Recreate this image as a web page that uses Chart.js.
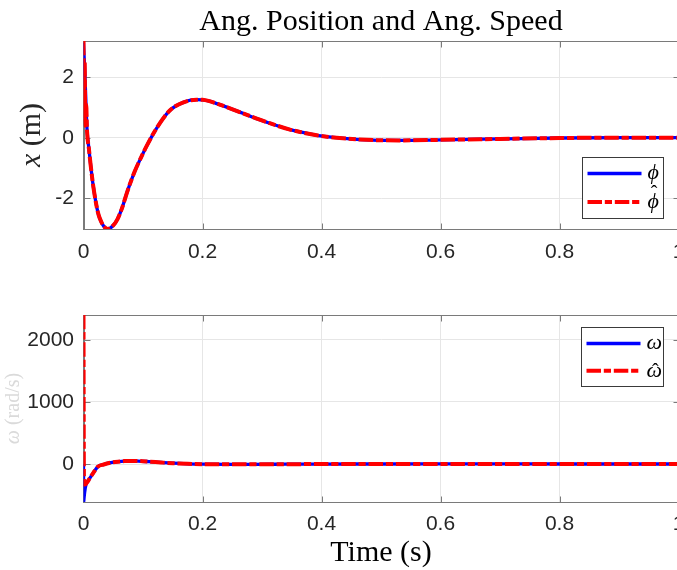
<!DOCTYPE html>
<html>
<head>
<meta charset="utf-8">
<script src="https://cdn.jsdelivr.net/npm/chart.js@4.4.0/dist/chart.umd.min.js"></script>
<style>
  html, body { margin: 0; padding: 0; background: #fff; overflow: hidden; }
  #wrap { position: relative; width: 677px; height: 570px; overflow: hidden; }
  canvas { position: absolute; left: 0; }
  #posChart { top: 0; }
  #speedChart { top: 270px; }
</style>
</head>
<body>
<div id="wrap">
  <canvas id="posChart" width="700" height="270"></canvas>
  <canvas id="speedChart" width="700" height="300"></canvas>
</div>
<script>
// angular position (rad)
const timePos = [0, 0.001, 0.002, 0.003, 0.0045, 0.006, 0.009, 0.012, 0.016, 0.02, 0.024, 0.027, 0.034, 0.041, 0.05, 0.057, 0.064, 0.075, 0.086, 0.098, 0.106, 0.117, 0.129, 0.137, 0.145, 0.155, 0.168, 0.18, 0.19, 0.2, 0.21, 0.224, 0.245, 0.269, 0.29, 0.313, 0.347, 0.364, 0.392, 0.42, 0.465, 0.53, 0.6, 0.7, 0.8, 0.9, 1.0];
const phiData = [3.14, 2.7, 2.3, 1.75, 0.95, 0.25, -0.35, -0.9, -1.55, -2.05, -2.45, -2.65, -2.93, -3.02, -2.9, -2.7, -2.37, -1.7, -1.12, -0.6, -0.28, 0.12, 0.5, 0.72, 0.9, 1.05, 1.17, 1.24, 1.26, 1.255, 1.22, 1.13, 0.98, 0.8, 0.64, 0.48, 0.27, 0.19, 0.08, 0.01, -0.06, -0.09, -0.07, -0.04, -0.01, 0, 0];
const phiHatData = [3.2, 0.6, 2.5, 0.4, 1.1, 0.2, -0.35, -0.9, -1.55, -2.05, -2.45, -2.65, -2.93, -3.02, -2.9, -2.7, -2.37, -1.7, -1.12, -0.6, -0.28, 0.12, 0.5, 0.72, 0.9, 1.05, 1.17, 1.24, 1.26, 1.255, 1.22, 1.13, 0.98, 0.8, 0.64, 0.48, 0.27, 0.19, 0.08, 0.01, -0.06, -0.09, -0.07, -0.04, -0.01, 0, 0];

// angular speed
const timeSpeed = [0, 0.0003, 0.0008, 0.002, 0.004, 0.007, 0.0104, 0.016, 0.024, 0.034, 0.046, 0.058, 0.069, 0.08, 0.092, 0.11, 0.13, 0.15, 0.175, 0.2, 0.24, 0.285, 0.34, 0.4, 0.5, 0.6, 0.7, 0.8, 0.9, 1.0];
const omegaData = [0, -610, -560, -450, -340, -280, -230, -150, -43, -8, 21, 38, 48, 50, 48, 38, 25, 13, 3, -3, -5, -5, -3, -1, 0, 1, 1, 0, 0, 0];
const omegaHatData = [2400, 900, -330, -330, -320, -285, -230, -150, -43, -8, 21, 38, 48, 50, 48, 38, 25, 13, 3, -3, -5, -5, -3, -1, 0, 1, 1, 0, 0, 0];

const timeTicks = [0, 0.2, 0.4, 0.6, 0.8, 1];
const posTicks = [-2, 0, 2];
const speedTicks = [0, 1000, 2000];
const posRange = [-3.02, 3.2];
const speedRange = [-612, 2400];

const tickFont = { family: '"Liberation Sans", Arial, sans-serif', size: 21 };
const serif = '"Liberation Serif", "DejaVu Serif", serif';
const axisGray = '#7a7a7a';

const toPoints = (xs, ys) => xs.map((x, i) => ({ x: x, y: ys[i] }));

// box round the axes plus the small inward tick marks
const axesBox = {
  id: 'axesBox',
  beforeDatasetsDraw(chart) {
    const { ctx, chartArea: a, scales } = chart;
    const L = Math.round(a.left) + 0.5, R = Math.round(a.right) + 0.5;
    const T = Math.round(a.top) + 0.5, B = Math.round(a.bottom) + 0.5;
    ctx.save();
    ctx.strokeStyle = axisGray;
    ctx.lineWidth = 1;
    ctx.strokeRect(L, T, R - L, B - T);
    ctx.beginPath();
    scales.x.ticks.forEach(t => {
      const px = Math.round(scales.x.getPixelForValue(t.value)) + 0.5;
      ctx.moveTo(px, B); ctx.lineTo(px, B - 6);
      ctx.moveTo(px, T); ctx.lineTo(px, T + 6);
    });
    scales.y.ticks.forEach(t => {
      const py = Math.round(scales.y.getPixelForValue(t.value)) + 0.5;
      ctx.moveTo(L, py); ctx.lineTo(L + 6, py);
      ctx.moveTo(R, py); ctx.lineTo(R - 6, py);
    });
    ctx.stroke();
    ctx.restore();
  }
};

// y label with mixed italic / upright parts, and the boxed legend
const extras = {
  id: 'extras',
  afterDraw(chart, args, opts) {
    const { ctx, chartArea: a } = chart;
    ctx.save();
    // y label
    const lab = opts.yLabel;
    ctx.translate(lab.x, (a.top + a.bottom) / 2);
    ctx.rotate(-Math.PI / 2);
    ctx.textBaseline = 'middle';
    ctx.fillStyle = lab.color;
    let total = 0;
    lab.parts.forEach(p => {
      ctx.font = (p.italic ? 'italic ' : '') + lab.size + 'px ' + serif;
      total += ctx.measureText(p.text).width;
    });
    let cx = -total / 2;
    lab.parts.forEach(p => {
      ctx.font = (p.italic ? 'italic ' : '') + lab.size + 'px ' + serif;
      ctx.textAlign = 'left';
      ctx.fillText(p.text, cx, 0);
      cx += ctx.measureText(p.text).width;
    });
    ctx.restore();

    // legend
    const lg = opts.legend;
    const bx = Math.round(a.right - lg.right - lg.width) + 0.5;
    const by = Math.round(a.top + lg.top) + 0.5;
    ctx.save();
    ctx.fillStyle = '#fff';
    ctx.fillRect(bx, by, lg.width, lg.height);
    ctx.strokeStyle = '#3a3a3a';
    ctx.lineWidth = 1;
    ctx.strokeRect(bx, by, lg.width, lg.height);
    lg.rows.forEach((rowY, i) => {
      const ds = chart.data.datasets[lg.order[i]];
      const y = by + rowY;
      ctx.beginPath();
      ctx.setLineDash(ds.borderDash || []);
      ctx.strokeStyle = ds.borderColor;
      ctx.lineWidth = ds.borderWidth;
      ctx.moveTo(bx + 5, y);
      ctx.lineTo(bx + 5 + lg.lineLen, y);
      ctx.stroke();
      ctx.setLineDash([]);
      const hasHat = ds.label.indexOf('\u0302') >= 0;
      const base = ds.label.replace('\u0302', '');
      ctx.font = 'italic 22px ' + serif;
      ctx.fillStyle = '#000';
      ctx.textAlign = 'left';
      ctx.textBaseline = 'middle';
      const tx = bx + 5 + lg.lineLen + 6;
      ctx.fillText(base, tx, y + lg.textDy);
      if (hasHat) {
        const w = ctx.measureText(base).width;
        ctx.font = '20px ' + serif;
        ctx.textAlign = 'center';
        ctx.fillText('\u02C6', tx + w / 2 + 1, y + lg.hatDy);
      }
    });
    ctx.restore();
  }
};

const plainLabel = v => String(v);

function xScale(height, pad, title) {
  return {
    type: 'linear',
    min: 0,
    max: 1,
    afterBuildTicks: s => { s.ticks = timeTicks.map(v => ({ value: v })); },
    afterFit: s => { s.height = height; },
    ticks: { font: tickFont, color: '#262626', maxRotation: 0, autoSkip: false, padding: pad, callback: plainLabel },
    grid: { color: '#e6e6e6', drawTicks: false },
    border: { color: axisGray },
    title: title || { display: false }
  };
}

function yScale(range, ticks) {
  return {
    type: 'linear',
    min: range[0],
    max: range[1],
    afterBuildTicks: s => { s.ticks = ticks.map(v => ({ value: v })); },
    afterFit: s => { s.width = 83.5; },
    ticks: { font: tickFont, color: '#262626', padding: 9.5, callback: plainLabel },
    grid: { color: '#e6e6e6', drawTicks: false },
    border: { color: axisGray }
  };
}

const blueLine = { borderColor: '#0000ff', borderWidth: 3.3, pointRadius: 0, cubicInterpolationMode: 'monotone', borderJoinStyle: 'round', fill: false };
const redLine = { borderColor: '#ff0000', borderWidth: 4, borderDash: [14.5, 2.8, 7.2, 2.8], pointRadius: 0, cubicInterpolationMode: 'monotone', borderJoinStyle: 'round', fill: false };

new Chart(document.getElementById('posChart'), {
  type: 'line',
  data: {
    datasets: [
      Object.assign({ label: '\u03D5', data: toPoints(timePos, phiData), order: 1 }, blueLine),
      Object.assign({ label: '\u03D5\u0302', data: toPoints(timePos, phiHatData), order: 0 }, redLine)
    ]
  },
  options: {
    responsive: false,
    animation: false,
    devicePixelRatio: 1,
    layout: { padding: { left: 0, right: 21.5, top: 0, bottom: 0 } },
    plugins: {
      legend: { display: false },
      tooltip: { enabled: false },
      title: {
        display: true,
        fullSize: false,
        text: 'Ang. Position and Ang. Speed',
        color: '#000',
        font: { family: serif, size: 30, weight: 'normal', lineHeight: 1.2 },
        padding: { top: 4, bottom: 1 }
      },
      extras: {
        yLabel: { x: 32, size: 30, color: '#262626', parts: [{ text: 'x', italic: true }, { text: ' (m)' }] },
        legend: { right: 15.5, top: 116, width: 81, height: 61, rows: [16, 44.5], order: [0, 1], lineLen: 54, textDy: 0, hatDy: -7 }
      }
    },
    scales: {
      x: xScale(41, 11),
      y: yScale(posRange, posTicks)
    }
  },
  plugins: [axesBox, extras]
});

new Chart(document.getElementById('speedChart'), {
  type: 'line',
  data: {
    datasets: [
      Object.assign({ label: '\u03C9', data: toPoints(timeSpeed, omegaData), order: 1 }, blueLine),
      Object.assign({ label: '\u03C9\u0302', data: toPoints(timeSpeed, omegaHatData), order: 0 }, redLine)
    ]
  },
  options: {
    responsive: false,
    animation: false,
    devicePixelRatio: 1,
    layout: { padding: { left: 0, right: 21.5, top: 45, bottom: 0 } },
    plugins: {
      legend: { display: false },
      tooltip: { enabled: false },
      extras: {
        yLabel: { x: 14, size: 20, color: '#dadada', parts: [{ text: '\u03C9', italic: true }, { text: ' (rad/s)' }] },
        legend: { right: 16, top: 11.7, width: 82, height: 59, rows: [16, 43.3], order: [0, 1], lineLen: 54, textDy: 0, hatDy: 2 }
      }
    },
    scales: {
      x: xScale(68, 10, { display: true, text: 'Time (s)', color: '#000', font: { family: serif, size: 30, lineHeight: 1.1 }, padding: { top: 0, bottom: 0 } }),
      y: yScale(speedRange, speedTicks)
    }
  },
  plugins: [axesBox, extras]
});
</script>
</body>
</html>
